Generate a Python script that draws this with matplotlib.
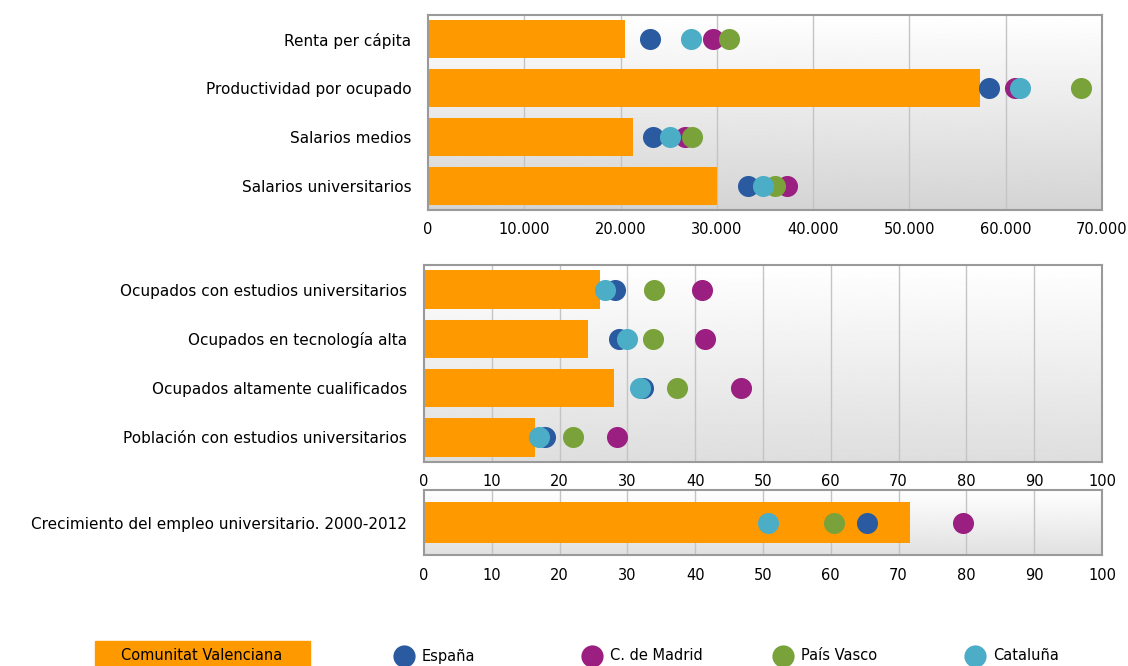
import numpy as np
import matplotlib
matplotlib.use('Agg')
import matplotlib.pyplot as plt
from matplotlib.patches import Rectangle
from matplotlib.lines import Line2D

plt.rcParams['font.family'] = 'DejaVu Sans'

# Panel 1: euros
cats1 = ["Renta per cápita", "Productividad por ocupado", "Salarios medios", "Salarios universitarios"]
cv1 = [20500, 57300, 21250, 30000]
esp1 = [23100, 58300, 23400, 33200]
mad1 = [29600, 61000, 26700, 37300]
pv1 = [31300, 67800, 27400, 36000]
cat1 = [27300, 61500, 25100, 34800]

# Panel 2: percentages
cats2 = ["Ocupados con estudios universitarios", "Ocupados en tecnología alta",
         "Ocupados altamente cualificados", "Población con estudios universitarios"]
cv2 = [26.0, 24.2, 28.0, 16.4]
esp2 = [28.2, 28.8, 32.3, 17.8]
mad2 = [41.0, 41.4, 46.8, 28.5]
pv2 = [33.9, 33.8, 37.3, 22.0]
cat2 = [26.7, 29.9, 31.9, 17.0]

# Panel 3
cats3 = ["Crecimiento del empleo universitario. 2000-2012"]
cv3 = [71.7]
esp3 = [65.3]
mad3 = [79.5]
pv3 = [60.5]
cat3 = [50.7]

names = ["Comunitat Valenciana", "España", "C. de Madrid", "País Vasco", "Cataluña"]
c_cv = "#FF9900"
c_esp = "#2A5BA0"
c_mad = "#9A1F80"
c_pv = "#79A33A"
c_cat = "#4CADC7"

FS = 11

fig = plt.figure(figsize=(11.28, 6.66), dpi=100)


def panel(rect, cats, cv, esp, mad, pv, cat, xmax, xstep, bar_h, ylim, grad_lo, fmt):
    ax = fig.add_axes(rect)
    y = np.arange(len(cats))
    # gradient background
    grad = np.linspace(1.0, grad_lo, 256).reshape(-1, 1)
    ax.imshow(grad, cmap='gray', vmin=0, vmax=1, aspect='auto',
              extent=(0, 1, 0, 1), transform=ax.transAxes, zorder=0)
    for xv in np.arange(xstep, xmax, xstep):
        ax.axvline(xv, color="#c4c4c4", lw=1, zorder=1)
    ax.barh(y, cv, height=bar_h, color=c_cv, zorder=2)
    for vals, col in [(esp, c_esp), (mad, c_mad), (pv, c_pv), (cat, c_cat)]:
        ax.scatter(vals, y, s=230, color=col, zorder=3, linewidths=0)
    ax.set_xlim(0, xmax)
    ax.set_ylim(*ylim)
    ax.set_yticks(y)
    ax.set_yticklabels(cats, fontsize=FS)
    ax.set_xticks(np.arange(0, xmax + 1, xstep))
    ax.set_xticklabels([fmt(v) for v in np.arange(0, xmax + 1, xstep)], fontsize=FS - 0.5)
    ax.tick_params(axis='y', length=0, pad=12)
    ax.tick_params(axis='x', length=0, pad=9)
    for s in ax.spines.values():
        s.set_color("#9a9a9a")
        s.set_linewidth(1.5)
    return ax


def euro(v):
    return "0" if v == 0 else f"{int(v):,}".replace(",", ".")


def num(v):
    return str(int(v))


panel([428 / 1128, 1 - 210 / 666, 674 / 1128, 195 / 666], cats1, cv1, esp1, mad1, pv1, cat1,
      70000, 10000, 0.78, (3.5, -0.5), 0.83, euro)
panel([424 / 1128, 1 - 462 / 666, 678 / 1128, 197 / 666], cats2, cv2, esp2, mad2, pv2, cat2,
      100, 10, 0.78, (3.5, -0.5), 0.87, num)
panel([424 / 1128, 1 - 555 / 666, 678 / 1128, 65 / 666], cats3, cv3, esp3, mad3, pv3, cat3,
      100, 10, 1.0, (0.8, -0.8), 0.88, num)

# legend along the bottom
ly = 1 - 656 / 666
fig.patches.append(Rectangle((95 / 1128, 0), 215 / 1128, 25 / 666, transform=fig.transFigure,
                             color=c_cv, zorder=5))
fig.text(202 / 1128, ly, names[0], ha='center', va='center', fontsize=FS - 0.5, zorder=10)
for xpx, name, col in [(404, names[1], c_esp), (592, names[2], c_mad),
                       (783, names[3], c_pv), (975, names[4], c_cat)]:
    fig.lines.append(Line2D([xpx / 1128], [ly], marker='o', markersize=16, color=col,
                            markeredgewidth=0, transform=fig.transFigure))
    fig.text((xpx + 18) / 1128, ly, name, ha='left', va='center', fontsize=FS - 0.5, zorder=10)

fig.savefig("out.png", dpi=100)
